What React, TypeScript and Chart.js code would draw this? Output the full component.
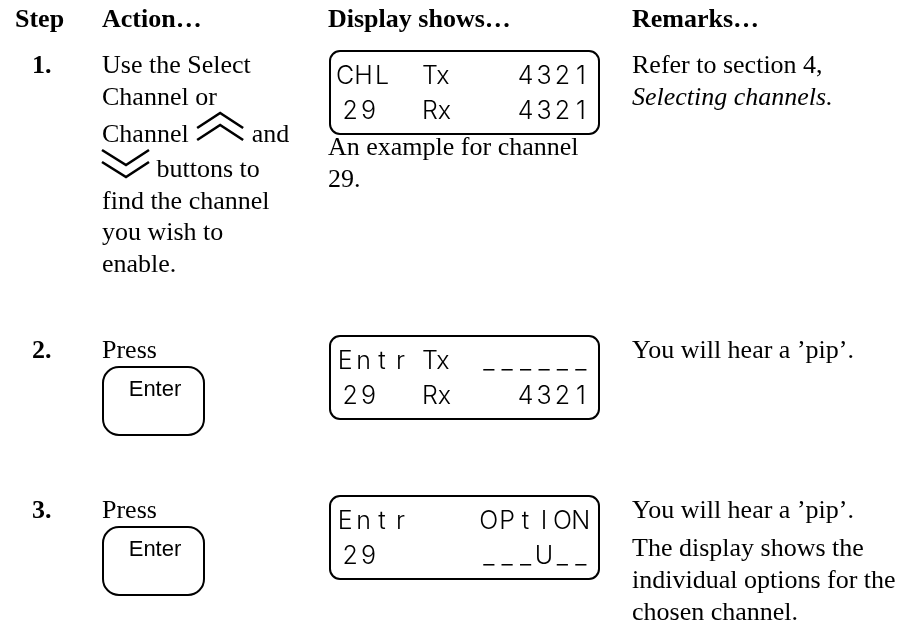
import React, { useEffect, useRef } from "react";
import { Chart, registerables } from "chart.js";

Chart.register(...registerables);

// ---------- content ----------
const headers = ["Step", "Action…", "Display shows…", "Remarks…"];
const steps = ["1.", "2.", "3."];
const action1Lines = [
  "Use the Select",
  "Channel or",
  "Channel {up} and",
  "{down} buttons to",
  "find the channel",
  "you wish to",
  "enable.",
];
const pressLabel = "Press";
const buttonLabel = "Enter";
const display1 = [
  ["CHL", "Tx", "4321"],
  ["29", "Rx", "4321"],
];
const display2 = [
  ["Entr", "Tx", "______"],
  ["29", "Rx", "4321"],
];
const display3 = [
  ["Entr", "", "OPtION"],
  ["29", "", "___U__"],
];
const caption1 = ["An example for channel", "29."];
const remarks1 = ["Refer to section 4,", "Selecting channels."];
const remarks1Italic = [false, true];
const remarks2 = ["You will hear a ’pip’."];
const remarks3 = [
  "You will hear a ’pip’.",
  "The display shows the",
  "individual options for the",
  "chosen channel.",
];

// ---------- layout ----------
const W = 904;
const H = 632;
const colX = [15, 102, 328, 632];
const stepX = 32;
const rowBase = [73, 358, 518];
const action1Base = [73, 105, 142, 177, 209, 240, 272];
const caption1Base = [155, 187];
const remarks1Base = [73, 105];
const remarks3Base = [518, 556, 588, 620];
const SERIF = '"Liberation Serif", "Times New Roman", Times, serif';
const SANS = '"Liberation Sans", Arial, Helvetica, sans-serif';
const LCD = 'Inter, Lato, "DejaVu Sans", sans-serif';

const docPlugin = {
  id: "docTable",
  beforeDraw(chart: any) {
    const ctx = chart.ctx;
    ctx.save();
    ctx.fillStyle = "#ffffff";
    ctx.fillRect(0, 0, chart.width, chart.height);
    ctx.restore();
  },
  afterDraw(chart: any) {
    const ctx: CanvasRenderingContext2D = chart.ctx;
    const xs = chart.scales.x;
    const ys = chart.scales.y;
    const X = (v: number) => xs.getPixelForValue(v);
    const Y = (v: number) => ys.getPixelForValue(v);
    ctx.save();
    ctx.fillStyle = "#000";
    ctx.strokeStyle = "#000";
    ctx.textBaseline = "alphabetic";
    ctx.textAlign = "left";

    // headers
    ctx.font = `bold 26px ${SERIF}`;
    headers.forEach((h, i) => ctx.fillText(h, X(colX[i]), Y(27)));

    // step numbers
    steps.forEach((s, i) => ctx.fillText(s, X(stepX), Y(rowBase[i])));

    // action column, row 1
    ctx.font = `26px ${SERIF}`;
    const drawUp = (x0: number, b: number) => {
      ctx.save();
      ctx.lineWidth = 2.6;
      ctx.lineJoin = "miter";
      ctx.beginPath();
      ctx.moveTo(X(x0), Y(b - 14));
      ctx.lineTo(X(x0 + 23), Y(b - 29));
      ctx.lineTo(X(x0 + 46), Y(b - 14));
      ctx.moveTo(X(x0), Y(b - 2));
      ctx.lineTo(X(x0 + 23), Y(b - 17));
      ctx.lineTo(X(x0 + 46), Y(b - 2));
      ctx.stroke();
      ctx.restore();
    };
    const drawDown = (x0: number, b: number) => {
      ctx.save();
      ctx.lineWidth = 2.6;
      ctx.lineJoin = "miter";
      ctx.beginPath();
      ctx.moveTo(X(x0), Y(b - 27));
      ctx.lineTo(X(x0 + 24), Y(b - 12));
      ctx.lineTo(X(x0 + 47), Y(b - 27));
      ctx.moveTo(X(x0), Y(b - 15));
      ctx.lineTo(X(x0 + 24), Y(b));
      ctx.lineTo(X(x0 + 47), Y(b - 15));
      ctx.stroke();
      ctx.restore();
    };
    action1Lines.forEach((line, i) => {
      const b = action1Base[i];
      const parts = line.split(/(\{up\}|\{down\})/).filter((p) => p.length);
      let x = colX[1];
      parts.forEach((p) => {
        if (p === "{up}") {
          x += 2;
          drawUp(x, b);
          x += 48;
        } else if (p === "{down}") {
          drawDown(x, b);
          x += 48;
        } else {
          ctx.fillText(p, X(x), Y(b));
          x += ctx.measureText(p).width;
        }
      });
    });

    // press + enter buttons rows 2, 3
    [1, 2].forEach((r) => {
      const b = rowBase[r];
      ctx.font = `26px ${SERIF}`;
      ctx.fillText(pressLabel, X(colX[1]), Y(b));
      const top = b + 9;
      ctx.save();
      ctx.lineWidth = 2;
      ctx.beginPath();
      ctx.roundRect(X(103), Y(top), X(204) - X(103), Y(top + 68) - Y(top), 16);
      ctx.stroke();
      ctx.restore();
      ctx.font = `22px ${SANS}`;
      ctx.textAlign = "center";
      ctx.fillText(buttonLabel, X(155), Y(top + 29));
      ctx.textAlign = "left";
    });

    // LCD displays
    const pitch = 18.4;
    const drawChars = (s: string, x0: number, b: number) => {
      for (let k = 0; k < s.length; k++) {
        ctx.fillText(s[k], X(x0 + k * pitch + pitch / 2), Y(b));
      }
    };
    const displays = [display1, display2, display3];
    displays.forEach((d, r) => {
      const top = rowBase[r] - 22;
      ctx.save();
      ctx.lineWidth = 2;
      ctx.beginPath();
      ctx.roundRect(X(330), Y(top), X(599) - X(330), Y(top + 83) - Y(top), 10);
      ctx.stroke();
      ctx.restore();
      ctx.font = `300 25px ${LCD}`;
      ctx.textAlign = "center";
      d.forEach((row, j) => {
        const b = top + (j === 0 ? 33 : 68);
        const a = row[0];
        drawChars(a, j === 0 ? 336 : 341, b);
        if (row[1]) {
          ctx.textAlign = "left";
          ctx.fillText(row[1], X(422), Y(b));
          ctx.textAlign = "center";
        }
        const c = row[2];
        drawChars(c, 590 - c.length * pitch, b);
      });
      ctx.textAlign = "left";
    });

    // caption under display 1
    ctx.font = `26px ${SERIF}`;
    caption1.forEach((t, i) => ctx.fillText(t, X(colX[2]), Y(caption1Base[i])));

    // remarks
    remarks1.forEach((t, i) => {
      ctx.font = `${remarks1Italic[i] ? "italic " : ""}26px ${SERIF}`;
      ctx.fillText(t, X(colX[3]), Y(remarks1Base[i]));
    });
    ctx.font = `26px ${SERIF}`;
    remarks2.forEach((t) => ctx.fillText(t, X(colX[3]), Y(rowBase[1])));
    remarks3.forEach((t, i) => ctx.fillText(t, X(colX[3]), Y(remarks3Base[i])));

    ctx.restore();
  },
};

export default function App() {
  const ref = useRef<HTMLCanvasElement | null>(null);
  useEffect(() => {
    if (!ref.current) return;
    const chart = new Chart(ref.current, {
      type: "scatter",
      data: { datasets: [{ data: [], pointRadius: 0 }] },
      options: {
        animation: false,
        responsive: false,
        events: [],
        layout: { padding: 0 },
        plugins: { legend: { display: false }, tooltip: { enabled: false } },
        scales: {
          x: { type: "linear", min: 0, max: W, display: false },
          y: { type: "linear", min: 0, max: H, reverse: true, display: false },
        },
      },
      plugins: [docPlugin],
    } as any);
    if ((document as any).fonts && (document as any).fonts.load) {
      Promise.all([
        document.fonts.load(`26px ${SERIF}`),
        document.fonts.load(`bold 26px ${SERIF}`),
        document.fonts.load(`italic 26px ${SERIF}`),
        document.fonts.load(`22px ${SANS}`),
        document.fonts.load(`300 25px ${LCD}`),
      ])
        .then(() => chart.update())
        .catch(() => {});
    }
    return () => chart.destroy();
  }, []);
  return (
    <div style={{ position: "absolute", left: 0, top: 0, width: W, height: H, background: "#fff" }}>
      <canvas ref={ref} width={W} height={H} style={{ display: "block" }} />
    </div>
  );
}
